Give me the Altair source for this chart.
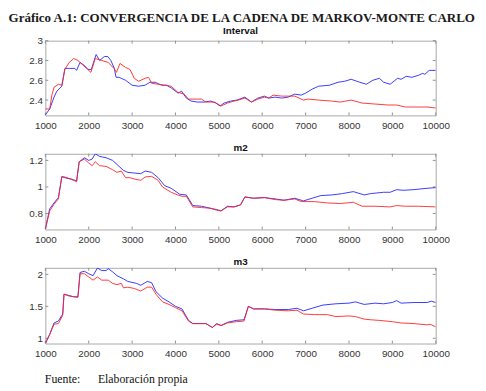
import altair as alt
import pandas as pd

# ---- data (x = iteration, y = running estimate) ----
interval_blue = [(1000,2.25),(1100,2.31),(1200,2.43),(1265,2.49),(1380,2.54),(1450,2.72),(1550,2.72),(1680,2.72),
    (1720,2.70),(1800,2.78),(1900,2.75),(1980,2.71),(2060,2.71),(2170,2.86),(2250,2.80),(2360,2.84),(2440,2.84),
    (2510,2.80),(2590,2.72),(2630,2.63),(2700,2.63),(2850,2.60),(3000,2.55),(3150,2.54),(3300,2.55),(3410,2.58),
    (3530,2.58),(3680,2.55),(3800,2.55),(3910,2.52),(4060,2.47),(4140,2.49),(4250,2.42),(4360,2.39),(4510,2.38),
    (4660,2.38),(4810,2.39),(4930,2.37),(5030,2.34),(5120,2.37),(5270,2.39),(5420,2.40),(5600,2.43),(5750,2.38),
    (5900,2.42),(6050,2.44),(6150,2.42),(6300,2.43),(6450,2.42),(6600,2.43),(6750,2.46),(6900,2.45),(7000,2.47),
    (7150,2.51),(7300,2.54),(7550,2.55),(7750,2.58),(7900,2.59),(8050,2.61),(8250,2.58),(8400,2.56),(8550,2.60),
    (8700,2.62),(8800,2.58),(8950,2.56),(9120,2.62),(9200,2.61),(9320,2.64),(9450,2.63),(9600,2.65),(9700,2.67),
    (9750,2.66),(9850,2.70),(10000,2.70)]
interval_red = [(1000,2.31),(1100,2.31),(1150,2.45),(1200,2.53),(1300,2.56),(1380,2.55),(1450,2.71),(1550,2.78),
    (1650,2.82),(1750,2.80),(1850,2.76),(1950,2.72),(2050,2.68),(2150,2.82),(2300,2.80),(2450,2.78),(2580,2.72),
    (2640,2.68),(2720,2.77),(2850,2.73),(2950,2.71),(3050,2.62),(3150,2.59),(3300,2.62),(3380,2.63),(3450,2.57),
    (3600,2.56),(3750,2.55),(3900,2.54),(4050,2.48),(4200,2.46),(4300,2.41),(4500,2.41),(4600,2.41),(4700,2.38),
    (4900,2.38),(5050,2.34),(5200,2.37),(5350,2.39),(5450,2.40),(5600,2.42),(5750,2.38),(5900,2.41),(6050,2.43),
    (6150,2.42),(6250,2.45),(6450,2.44),(6750,2.44),(6950,2.40),(7050,2.41),(7300,2.40),(7600,2.39),(7800,2.38),
    (8050,2.40),(8300,2.37),(8600,2.36),(8900,2.35),(9100,2.35),(9300,2.33),(9600,2.33),(9800,2.33),(10000,2.32)]

m2_blue = [(1000,0.686),(1100,0.835),(1200,0.88),(1300,0.92),(1380,1.077),(1500,1.065),(1600,1.06),(1720,1.045),
    (1780,1.19),(1900,1.22),(2000,1.20),(2080,1.21),(2150,1.25),(2250,1.23),(2400,1.22),(2550,1.20),(2650,1.17),
    (2800,1.125),(2900,1.11),(3050,1.105),(3200,1.10),(3300,1.12),(3450,1.11),(3600,1.07),(3750,1.01),(3900,0.99),
    (4100,0.945),(4250,0.94),(4400,0.86),(4600,0.855),(4800,0.84),(4950,0.83),(5050,0.82),(5200,0.855),(5350,0.85),
    (5500,0.865),(5600,0.925),(5800,0.915),(6050,0.92),(6300,0.91),(6500,0.90),(6750,0.915),(6950,0.895),
    (7150,0.915),(7350,0.935),(7600,0.94),(7850,0.95),(8100,0.965),(8350,0.94),(8500,0.95),(8800,0.96),
    (8950,0.96),(9100,0.98),(9250,0.975),(9500,0.98),(9800,0.99),(10000,0.995)]
m2_red = [(1000,0.68),(1100,0.82),(1200,0.87),(1300,0.91),(1380,1.08),(1500,1.07),(1650,1.05),(1720,1.04),
    (1780,1.19),(1900,1.21),(2000,1.18),(2080,1.16),(2150,1.19),(2250,1.16),(2400,1.155),(2550,1.13),(2650,1.11),
    (2750,1.12),(2850,1.07),(2950,1.07),(3050,1.06),(3200,1.05),(3300,1.075),(3450,1.08),(3600,1.05),(3700,1.00),
    (3900,0.96),(4050,0.94),(4150,0.93),(4250,0.93),(4400,0.85),(4600,0.845),(4800,0.84),(4950,0.825),(5050,0.82),
    (5200,0.85),(5350,0.85),(5500,0.865),(5600,0.925),(5800,0.915),(6050,0.92),(6300,0.905),(6500,0.90),
    (6750,0.91),(6900,0.89),(7200,0.89),(7500,0.88),(7800,0.875),(8100,0.885),(8300,0.855),(8600,0.855),
    (8950,0.85),(9100,0.86),(9300,0.855),(9600,0.855),(10000,0.85)]

m3_blue = [(1000,0.92),(1100,1.06),(1200,1.24),(1300,1.27),(1400,1.38),(1430,1.69),(1550,1.67),(1650,1.65),
    (1750,1.65),(1800,2.03),(1900,2.05),(2000,2.01),(2100,1.98),(2200,2.10),(2300,2.06),(2400,2.06),(2450,2.09),
    (2550,2.04),(2650,1.98),(2800,1.93),(2900,1.89),(3100,1.86),(3200,1.83),(3350,1.89),(3450,1.87),(3550,1.73),
    (3700,1.63),(3850,1.57),(4000,1.50),(4150,1.46),(4300,1.28),(4400,1.23),(4600,1.23),(4700,1.23),(4850,1.17),
    (4950,1.23),(5050,1.20),(5200,1.25),(5400,1.28),(5580,1.29),(5680,1.50),(5800,1.46),(6050,1.46),(6300,1.45),
    (6600,1.45),(6800,1.47),(6950,1.43),(7150,1.47),(7400,1.52),(7700,1.54),(8000,1.55),(8150,1.57),(8350,1.53),
    (8600,1.55),(8800,1.54),(9000,1.56),(9100,1.59),(9200,1.55),(9500,1.56),(9800,1.56),(9900,1.58),(10000,1.56)]
m3_red = [(1000,0.92),(1100,1.06),(1200,1.22),(1300,1.23),(1400,1.36),(1430,1.69),(1550,1.66),(1650,1.65),
    (1750,1.64),(1800,2.01),(1900,2.01),(2000,1.96),(2100,1.91),(2200,1.96),(2300,1.91),(2450,1.91),(2550,1.86),
    (2650,1.84),(2750,1.86),(2800,1.79),(2900,1.80),(3050,1.78),(3200,1.74),(3350,1.80),(3450,1.80),(3550,1.69),
    (3700,1.57),(3850,1.53),(4000,1.48),(4150,1.43),(4300,1.27),(4400,1.23),(4600,1.23),(4700,1.23),(4850,1.17),
    (4950,1.22),(5050,1.20),(5200,1.24),(5400,1.26),(5580,1.27),(5680,1.50),(5800,1.46),(6050,1.46),(6300,1.44),
    (6600,1.43),(6800,1.44),(6950,1.38),(7200,1.37),(7500,1.37),(7700,1.34),(8000,1.35),(8150,1.34),(8350,1.30),
    (8500,1.29),(8700,1.28),(9000,1.26),(9200,1.24),(9500,1.23),(9800,1.21),(9870,1.22),(10000,1.18)]

x_ticks = [1000, 2000, 3000, 4000, 5000, 6000, 7000, 8000, 9000, 10000]
interval_yticks = [2.4, 2.6, 2.8, 3.0]
m2_yticks = [0.8, 1.0, 1.2]
m3_yticks = [1.0, 1.5, 2.0]

main_title = "Gráfico A.1: CONVERGENCIA DE LA CADENA DE MARKOV-MONTE CARLO"
footer = "Fuente:\u00a0\u00a0\u00a0\u00a0\u00a0\u00a0Elaboración propia"

W = 397
FRAME = "#a8a8a8"
TICK = "#909090"
TL = 3
BLUE = "#2424ff"
RED = "#ff2424"


def panel(title, blue, red, ydom, yticks, H, foot=None):
    xs = alt.Scale(domain=[1000, 10000], nice=False, zero=False)
    ys = alt.Scale(domain=ydom, nice=False, zero=False)
    xkw = dict(values=x_ticks, format="d", ticks=False, domain=False, grid=False,
               labelPadding=5, labelFlush=False)
    if foot:
        xaxis = alt.Axis(**xkw, title=foot, titleFont="Liberation Serif", titleFontSize=12,
                         titleFontWeight="normal", titleColor="#111111", titleAnchor="start",
                         titleAlign="left", titleBaseline="alphabetic", titleX=-1, titleY=40)
    else:
        xaxis = alt.Axis(**xkw, title=None)
    yaxis = alt.Axis(values=yticks, format="~g", ticks=False, domain=False, grid=False,
                     labelPadding=3, title=None)

    dfb = pd.DataFrame(blue, columns=["x", "y"])
    dfr = pd.DataFrame(red, columns=["x", "y"])
    dxt = pd.DataFrame({"x": x_ticks})
    dyt = pd.DataFrame({"y": yticks})

    lb = alt.Chart(dfb).mark_line(color=BLUE, strokeWidth=0.9, clip=True).encode(
        x=alt.X("x:Q", scale=xs, axis=xaxis), y=alt.Y("y:Q", scale=ys, axis=yaxis))
    lr = alt.Chart(dfr).mark_line(color=RED, strokeWidth=0.9, clip=True).encode(
        x=alt.X("x:Q", scale=xs, axis=xaxis), y=alt.Y("y:Q", scale=ys, axis=yaxis))
    tb = alt.Chart(dxt).mark_rule(color=TICK, strokeWidth=1).encode(
        x=alt.X("x:Q", scale=xs, axis=xaxis), y=alt.value(H), y2=alt.value(H - TL))
    tt = alt.Chart(dxt).mark_rule(color=TICK, strokeWidth=1).encode(
        x=alt.X("x:Q", scale=xs, axis=xaxis), y=alt.value(0), y2=alt.value(TL))
    tl = alt.Chart(dyt).mark_rule(color=TICK, strokeWidth=1).encode(
        y=alt.Y("y:Q", scale=ys, axis=yaxis), x=alt.value(0), x2=alt.value(TL))
    tr = alt.Chart(dyt).mark_rule(color=TICK, strokeWidth=1).encode(
        y=alt.Y("y:Q", scale=ys, axis=yaxis), x=alt.value(W), x2=alt.value(W - TL))
    return alt.layer(tb, tt, tl, tr, lb, lr).properties(
        width=W, height=H,
        title=alt.TitleParams(title, font="Liberation Sans", fontSize=10, fontWeight="bold",
                              color="#111111", offset=0))


p1 = panel("Interval", interval_blue, interval_red, [2.245, 3.0], interval_yticks, 76)
p2 = panel("m2", m2_blue, m2_red, [0.68, 1.25], m2_yticks, 77)
p3 = panel("m3", m3_blue, m3_red, [0.918, 2.103], m3_yticks, 77, foot=footer)

chart = alt.vconcat(p1, p2, p3, spacing=12).properties(
    title=alt.TitleParams(main_title, anchor="start", font="Liberation Serif", fontSize=13.2,
                          fontWeight="bold", color="#1a1a1a", dx=-20, offset=0),
    padding={"left": 0, "top": 0, "right": 0, "bottom": 0},
).configure_view(stroke=FRAME, strokeWidth=1).configure_axis(
    labelFont="Liberation Sans", labelFontSize=10, labelColor="#333333")

chart.save("out.html", embed_options={"renderer": "svg", "actions": False})
